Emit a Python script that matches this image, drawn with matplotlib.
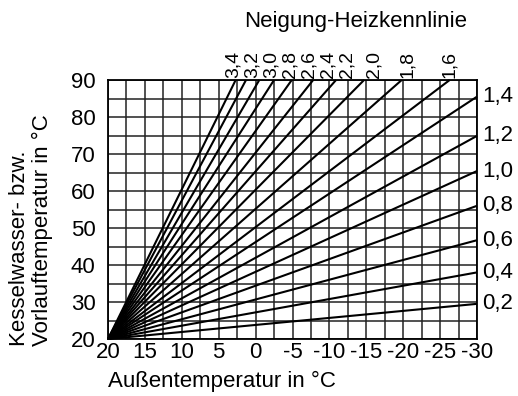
import matplotlib
matplotlib.use("Agg")
import matplotlib.pyplot as plt
import numpy as np

plt.rcParams['font.family'] = ['Liberation Sans', 'DejaVu Sans']

# Heating curves (Neigung) and where each line ends
slopes = [0.2, 0.4, 0.6, 0.8, 1.0, 1.2, 1.4, 1.6, 1.8, 2.0, 2.2, 2.4, 2.6, 2.8, 3.0, 3.2, 3.4]
slope_labels = ["0,2", "0,4", "0,6", "0,8", "1,0", "1,2", "1,4", "1,6", "1,8", "2,0",
                "2,2", "2,4", "2,6", "2,8", "3,0", "3,2", "3,4"]
end_outdoor = [-30, -30, -30, -30, -30, -30, -30, -26.3, -19.8, -14.7,
               -10.9, -7.8, -4.9, -2.5, -0.5, 1.3, 2.7]
end_flow = [29.5, 38.0, 46.7, 56.0, 65.4, 74.9, 85.5, 90, 90, 90,
            90, 90, 90, 90, 90, 90, 90]
start_outdoor = 20
start_flow = 20

x_ticks = [20, 15, 10, 5, 0, -5, -10, -15, -20, -25, -30]
x_ticklabels = ["20", "15", "10", "5", "0", "-5", "-10", "-15", "-20", "-25", "-30"]
y_ticks = [20, 30, 40, 50, 60, 70, 80, 90]

FS = 16
W, H = 518, 396
fig = plt.figure(figsize=(W / 100, H / 100), dpi=100)
ax = fig.add_axes([108 / W, 1 - 339 / H, (477 - 108) / W, (339 - 80) / H])

ax.set_xlim(20, -30)
ax.set_ylim(20, 90)

# grid
for gx in np.arange(20, -30.01, -2.5):
    ax.axvline(gx, color='#222222', lw=1.1, zorder=1)
for gy in np.arange(20, 90.01, 5):
    ax.axhline(gy, color='#222222', lw=1.1, zorder=1)

# curves
for s, lab, ex, ey in zip(slopes, slope_labels, end_outdoor, end_flow):
    ax.plot([start_outdoor, ex], [start_flow, ey], color='black', lw=1.5,
            solid_capstyle='butt', zorder=3, clip_on=False)

# labels on right side for curves ending at -30
for lab, ex, ey in zip(slope_labels, end_outdoor, end_flow):
    if ey < 90:
        ax.annotate(lab, xy=(ex, ey), xytext=(4, 0), textcoords='offset points',
                    ha='left', va='center', fontsize=FS)

# labels on top for curves ending at 90 (spread horizontally for readability)
top_label_px = {"1,6": 450, "1,8": 408, "2,0": 374, "2,2": 347, "2,4": 328,
                "2,6": 309, "2,8": 290, "3,0": 271, "3,2": 252, "3,4": 233}
for lab, ey in zip(slope_labels, end_flow):
    if ey >= 90:
        px = top_label_px[lab]
        fig.text(px / W, 1 - 78 / H, lab, rotation=90, ha='center', va='bottom',
                 fontsize=14)

for sp in ax.spines.values():
    sp.set_linewidth(1.3)
    sp.set_zorder(4)

ax.set_xticks(x_ticks)
ax.set_xticklabels(x_ticklabels, fontsize=FS)
ax.set_yticks(y_ticks)
ax.set_yticklabels([str(v) for v in y_ticks], fontsize=FS)
ax.tick_params(axis='x', length=0, pad=2)
ax.tick_params(axis='y', length=0, pad=9)

fig.text(222 / W, 1 - 381 / H, "Außentemperatur in °C", ha='center', va='center', fontsize=FS)
fig.text(356 / W, 1 - 21 / H, "Neigung-Heizkennlinie", ha='center', va='center', fontsize=FS)
fig.text(20 / W, 1 - 346 / H, "Kesselwasser- bzw.", rotation=90, ha='center', va='bottom', fontsize=FS)
fig.text(42 / W, 1 - 346 / H, "Vorlauftemperatur in °C", rotation=90, ha='center', va='bottom', fontsize=FS)

fig.savefig("out.png", dpi=100)
